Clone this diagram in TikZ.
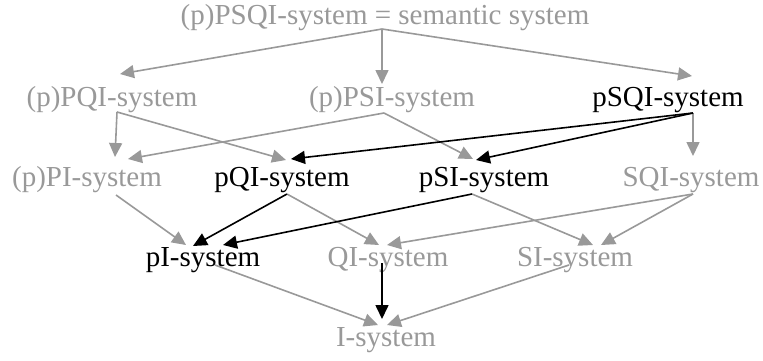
\documentclass[tikz,border=0pt]{standalone}
\usepackage{fontspec}
\setmainfont{Liberation Serif}
\usetikzlibrary{arrows.meta}
\definecolor{lgray}{RGB}{153,153,153}
\tikzset{
  lbl/.style={anchor=base,inner sep=0pt,font=\fontsize{29}{32}\selectfont},
  glbl/.style={lbl,text=lgray},
  klbl/.style={lbl,text=black},
  gedge/.style={draw=lgray,line width=1.6pt,-{Triangle[length=14pt,width=13pt]}},
  kedge/.style={draw=black,line width=1.6pt,-{Triangle[length=14pt,width=13pt]}}
}
\begin{document}
\begin{tikzpicture}[x=1pt,y=-1pt]
\useasboundingbox (0,0) rectangle (763,360);
% nodes
\node[glbl] (PSQI) at (385,24) {(p)PSQI-system = semantic system};
\node[glbl] (PQI) at (112,106) {(p)PQI-system};
\node[glbl] (PSI) at (392,106) {(p)PSI-system};
\node[klbl] (pSQI) at (668,106) {pSQI-system};
\node[glbl] (PI) at (87,186) {(p)PI-system};
\node[klbl] (pQI) at (282,186) {pQI-system};
\node[klbl] (pSI) at (484,186) {pSI-system};
\node[glbl] (SQI) at (691,186) {SQI-system};
\node[klbl] (pI) at (203,266) {pI-system};
\node[glbl] (QI) at (388,266) {QI-system};
\node[glbl] (SI) at (575,266) {SI-system};
\node[glbl] (I) at (386,346) {I-system};
% tail points
\coordinate (PSQI-t) at ([shift={(-3,5)}]PSQI.base);
\coordinate (PQI-t) at ([shift={(5,6)}]PQI.base);
\coordinate (PSI-t) at ([shift={(-8,7)}]PSI.base);
\coordinate (pSQI-t) at ([shift={(25,7)}]pSQI.base);
\coordinate (PI-t) at ([shift={(29,9)}]PI.base);
\coordinate (pQI-t) at ([shift={(5,8)}]pQI.base);
\coordinate (pSI-t) at ([shift={(-12,8)}]pSI.base);
\coordinate (SQI-t) at ([shift={(2,8)}]SQI.base);
\coordinate (pI-t) at ([shift={(12,-1)}]pI.base);
\coordinate (QI-t) at ([shift={(-6,-3)}]QI.base);
\coordinate (SI-t) at ([shift={(-6,-1)}]SI.base);
% gray edges
\draw[gedge] (PSQI-t) -- ([shift={(8,-32)}]PQI.base);
\draw[gedge] (PSQI-t) -- ([shift={(-10,-22)}]PSI.base);
\draw[gedge] (PSQI-t) -- ([shift={(24,-30)}]pSQI.base);
\draw[gedge] (PQI-t) -- ([shift={(28,-29)}]PI.base);
\draw[gedge] (PQI-t) -- ([shift={(4,-26)}]pQI.base);
\draw[gedge] (PSI-t) -- ([shift={(41,-27)}]PI.base);
\draw[gedge] (PSI-t) -- ([shift={(-11,-27)}]pSI.base);
\draw[gedge] (pSQI-t) -- ([shift={(2,-30)}]SQI.base);
\draw[gedge] (PI-t) -- ([shift={(-17,-21)}]pI.base);
\draw[gedge] (pQI-t) -- ([shift={(-9,-21)}]QI.base);
\draw[gedge] (pSI-t) -- ([shift={(18,-21)}]SI.base);
\draw[gedge] (SQI-t) -- ([shift={(-1,-21)}]QI.base);
\draw[gedge] (SQI-t) -- ([shift={(26,-21)}]SI.base);
\draw[gedge] (pI-t) -- ([shift={(-8,-21)}]I.base);
\draw[gedge] (SI-t) -- ([shift={(1,-21)}]I.base);
% black edges
\draw[kedge] (pSQI-t) -- ([shift={(9,-27)}]pQI.base);
\draw[kedge] (pSQI-t) -- ([shift={(-8,-26)}]pSI.base);
\draw[kedge] (pQI-t) -- ([shift={(-10,-20)}]pI.base);
\draw[kedge] (pSI-t) -- ([shift={(20,-21)}]pI.base);
\draw[kedge] (QI-t) -- ([shift={(-4,-27)}]I.base);
\end{tikzpicture}
\end{document}
